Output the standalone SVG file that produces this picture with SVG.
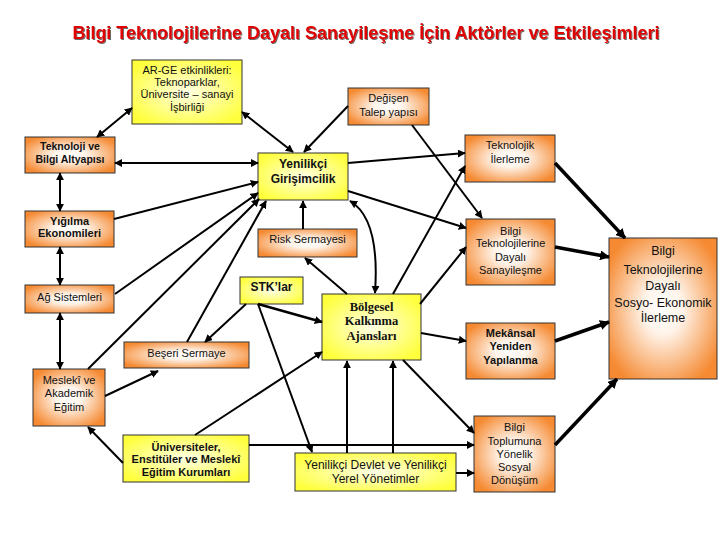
<svg xmlns="http://www.w3.org/2000/svg" width="720" height="540" viewBox="0 0 720 540">
<style>
.t{font-family:"Liberation Sans",Arial,sans-serif;font-size:11px;fill:#111;text-anchor:middle}
.b{font-weight:bold}
.s{font-family:"Liberation Serif","Times New Roman",serif;font-weight:bold;font-size:12.5px;fill:#111;text-anchor:middle}
.o{fill:url(#gO);stroke:#333;stroke-width:1}
.y{fill:url(#gY);stroke:#333;stroke-width:1}
.c{fill:none;stroke:#000;stroke-width:2;marker-end:url(#ar)}
.d{marker-start:url(#ar)}
.k{fill:none;stroke:#000;stroke-width:3.5;marker-end:url(#ak)}
.title{font-family:"Liberation Sans",Arial,sans-serif;font-size:18px;font-weight:bold;fill:#e00000;text-anchor:middle}
</style>
<defs>
<radialGradient id="gO" cx="0.5" cy="0.5" r="0.6">
<stop offset="0" stop-color="#ffffff"/>
<stop offset="0.3" stop-color="#fff4ea"/>
<stop offset="1" stop-color="#f58a32"/>
</radialGradient>
<radialGradient id="gY" cx="0.5" cy="0.5" r="0.6">
<stop offset="0" stop-color="#ffffe6"/>
<stop offset="1" stop-color="#ffff3c"/>
</radialGradient>
<marker id="ar" viewBox="0 0 10 10" refX="9" refY="5" markerWidth="8" markerHeight="8" markerUnits="userSpaceOnUse" orient="auto-start-reverse">
<path d="M0,0 L10,5 L0,10 z" fill="#000"/>
</marker>
<marker id="ak" viewBox="0 0 10 10" refX="9" refY="5" markerWidth="10" markerHeight="10" markerUnits="userSpaceOnUse" orient="auto-start-reverse">
<path d="M0,0 L10,5 L0,10 z" fill="#000"/>
</marker>
<filter id="sh" x="-5%" y="-30%" width="110%" height="160%">
<feDropShadow dx="1" dy="1" stdDeviation="0.4" flood-color="#444" flood-opacity="0.8"/>
</filter>
</defs>
<rect width="720" height="540" fill="#ffffff"/>
<text class="title" x="366" y="39" filter="url(#sh)">Bilgi Teknolojilerine Dayalı Sanayileşme İçin Aktörler ve Etkileşimleri</text>

<g id="n-arge"><rect class="y" x="132" y="60" width="110" height="64"/>
<text class="t" x="187" y="74">AR-GE etkinlikleri:</text><text class="t" x="187" y="86">Teknoparklar,</text><text class="t" x="187" y="98">Üniversite – sanayi</text><text class="t" x="187" y="111">İşbirliği</text></g>

<g id="n-talep"><rect class="o" x="348" y="88" width="81" height="37"/>
<text class="t" x="388.5" y="102">Değişen</text><text class="t" x="388.5" y="116">Talep yapısı</text></g>

<g id="n-altyapi"><rect class="o" x="25" y="137" width="90" height="36"/>
<text class="t b" style="font-size:10.5px" x="70" y="150">Teknoloji ve</text><text class="t b" style="font-size:10.5px" x="70" y="163">Bilgi Altyapısı</text></g>

<g id="n-girisim"><rect class="y" x="258" y="153" width="90" height="47"/>
<text class="t b" style="font-size:12px" x="303" y="168">Yenilikçi</text><text class="t b" style="font-size:12px" x="303" y="183">Girişimcilik</text></g>

<g id="n-tekilerleme"><rect class="o" x="465" y="135" width="90" height="47"/>
<text class="t" x="510" y="149">Teknolojik</text><text class="t" x="510" y="163">İlerleme</text></g>

<g id="n-yigilma"><rect class="o" x="25" y="211" width="89" height="36"/>
<text class="t b" x="69.5" y="225">Yığılma</text><text class="t b" x="69.5" y="237">Ekonomileri</text></g>

<g id="n-risk"><rect class="o" x="258" y="229" width="99" height="28"/>
<text class="t" x="307.5" y="243">Risk Sermayesi</text></g>

<g id="n-sanayi"><rect class="o" x="466" y="219" width="89" height="66"/>
<text class="t" x="510.5" y="235">Bilgi</text><text class="t" x="510.5" y="247">Teknolojilerine</text><text class="t" x="510.5" y="261">Dayalı</text><text class="t" x="510.5" y="274">Sanayileşme</text></g>

<g id="n-sosyo"><rect class="o" x="609" y="238" width="108" height="141"/>
<text class="t" style="font-size:12.5px" x="663" y="255">Bilgi</text><text class="t" style="font-size:12.5px" x="663" y="274">Teknolojilerine</text><text class="t" style="font-size:12.5px" x="663" y="290">Dayalı</text><text class="t" style="font-size:12.5px" x="663" y="307">Sosyo- Ekonomik</text><text class="t" style="font-size:12.5px" x="663" y="322">İlerleme</text></g>

<g id="n-stk"><rect class="y" x="240" y="277" width="63" height="27"/>
<text class="t b" style="font-size:12px" x="271.5" y="291">STK’lar</text></g>

<g id="n-ag"><rect class="o" x="25" y="285" width="89" height="28"/>
<text class="t" x="69.5" y="301">Ağ Sistemleri</text></g>

<g id="n-ajans"><rect class="y" x="322" y="294" width="99" height="66"/>
<text class="s" x="371.5" y="311">Bölgesel</text><text class="s" x="371.5" y="325">Kalkınma</text><text class="s" x="371.5" y="340">Ajansları</text></g>

<g id="n-mekan"><rect class="o" x="466" y="323" width="89" height="56"/>
<text class="t b" x="510.5" y="337">Mekânsal</text><text class="t b" x="510.5" y="350">Yeniden</text><text class="t b" x="510.5" y="364">Yapılanma</text></g>

<g id="n-beseri"><rect class="o" x="124" y="342" width="125" height="26"/>
<text class="t" x="186.5" y="357">Beşeri Sermaye</text></g>

<g id="n-meslek"><rect class="o" x="33" y="369" width="72" height="57"/>
<text class="t" x="69" y="384">Meslekî ve</text><text class="t" x="69" y="397">Akademik</text><text class="t" x="69" y="411">Eğitim</text></g>

<g id="n-univ"><rect class="y" x="123" y="435" width="126" height="47"/>
<text class="t b" x="186" y="451">Üniversiteler,</text><text class="t b" x="186" y="463">Enstitüler ve Meslekî</text><text class="t b" x="186" y="476">Eğitim Kurumları</text></g>

<g id="n-devlet"><rect class="y" x="295" y="453" width="161" height="38"/>
<text class="t" style="font-size:12px" x="375.5" y="469">Yenilikçi Devlet ve Yenilikçi</text><text class="t" style="font-size:12px" x="375.5" y="483">Yerel Yönetimler</text></g>

<g id="n-toplum"><rect class="o" x="474" y="416" width="81" height="76"/>
<text class="t" x="514.5" y="431">Bilgi</text><text class="t" x="514.5" y="445">Toplumuna</text><text class="t" x="514.5" y="458">Yönelik</text><text class="t" x="514.5" y="471">Sosyal</text><text class="t" x="514.5" y="484">Dönüşüm</text></g>

<g id="connectors">
<line class="c d" x1="97" y1="137" x2="132" y2="108"/>
<line class="c d" x1="242" y1="112" x2="293" y2="152"/>
<line class="c" x1="348" y1="106" x2="304" y2="152"/>
<line class="c d" x1="115" y1="163" x2="258" y2="163"/>
<line class="c" x1="412" y1="125" x2="482" y2="218"/>
<line class="c" x1="348" y1="163" x2="465" y2="153"/>
<line class="c" x1="348" y1="191" x2="466" y2="228"/>
<line class="c" x1="393" y1="294" x2="465" y2="166"/>
<line class="c" x1="420" y1="304" x2="466" y2="247"/>
<line class="c" x1="421" y1="333" x2="466" y2="341"/>
<line class="c" x1="347" y1="294" x2="305" y2="258"/>
<line class="c" x1="303" y1="229" x2="303" y2="201"/>
<path class="c d" d="M350,201 C372,214 378,250 375,293"/>
<line class="c" x1="114" y1="219" x2="258" y2="182"/>
<line class="c" x1="115" y1="294" x2="258" y2="193"/>
<line class="c" x1="88" y1="369" x2="259" y2="199"/>
<line class="c" x1="187" y1="342" x2="266" y2="201"/>
<line class="c d" x1="60" y1="173" x2="60" y2="211"/>
<line class="c d" x1="60" y1="247" x2="60" y2="285"/>
<line class="c d" x1="60" y1="313" x2="60" y2="369"/>
<line class="c" x1="105" y1="396" x2="158" y2="371"/>
<line class="c" x1="123" y1="463" x2="88" y2="427"/>
<line class="c" x1="195" y1="435" x2="322" y2="352"/>
<line class="c" x1="249" y1="445" x2="474" y2="445"/>
<line class="c" x1="246" y1="304" x2="205" y2="342"/>
<line class="c" style="stroke-width:2.5" x1="258" y1="304" x2="322" y2="322"/>
<line class="c" x1="258" y1="304" x2="312" y2="452"/>
<line class="c" x1="347" y1="453" x2="347" y2="361"/>
<line class="c" x1="393" y1="453" x2="393" y2="361"/>
<line class="c" x1="403" y1="360" x2="474" y2="433"/>
<line class="c" x1="456" y1="473" x2="474" y2="473"/>
<line class="k" x1="555" y1="163" x2="625" y2="238"/>
<line class="k" x1="555" y1="247" x2="609" y2="257"/>
<line class="k" x1="555" y1="341" x2="609" y2="322"/>
<line class="k" x1="555" y1="445" x2="617" y2="379"/>
</g>
</svg>
